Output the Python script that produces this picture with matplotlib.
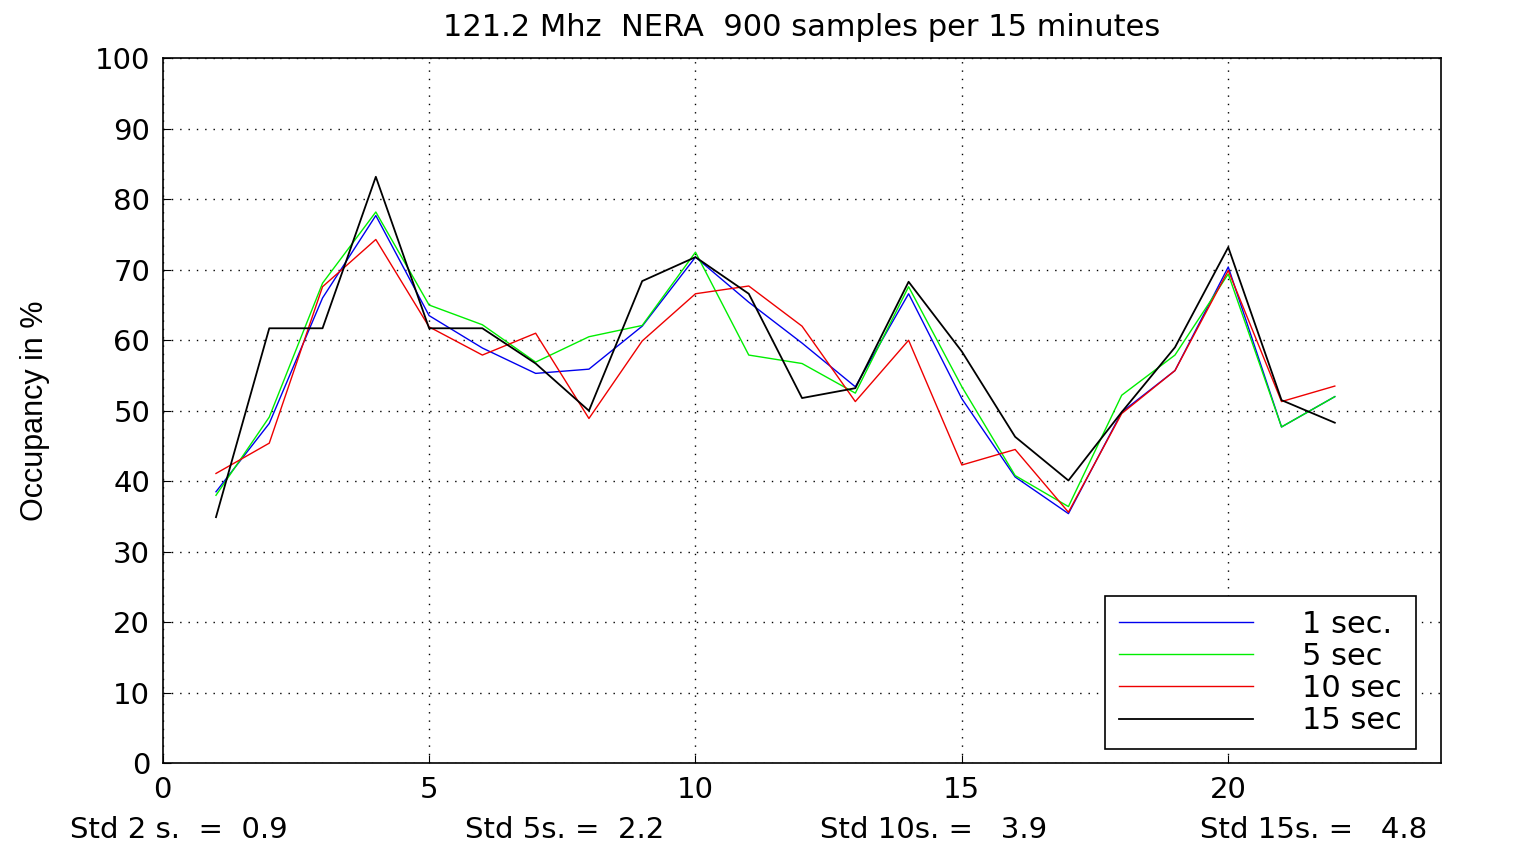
import matplotlib
matplotlib.use('Agg')
import matplotlib.pyplot as plt

plt.rcParams['font.family'] = ['DejaVu Sans']

# interval index (15 minute blocks)
x = list(range(1, 23))

# occupancy in % for each sampling interval
occ_1s = [38.5, 48.2, 66.0, 77.7, 63.5, 58.9, 55.3, 55.9, 62.0, 71.8, 65.4, 59.6,
          53.4, 66.6, 51.7, 40.6, 35.4, 49.8, 55.7, 70.4, 47.7, 52.0]
occ_5s = [38.0, 49.1, 68.1, 78.2, 65.0, 62.2, 56.9, 60.5, 62.1, 72.5, 57.9, 56.7,
          52.5, 67.6, 53.4, 40.8, 36.4, 52.2, 57.9, 69.4, 47.7, 52.0]
occ_10s = [41.1, 45.4, 67.6, 74.3, 61.9, 57.9, 61.0, 48.9, 59.9, 66.6, 67.7, 62.0,
           51.3, 60.0, 42.3, 44.5, 35.6, 49.6, 55.7, 69.9, 51.3, 53.5]
occ_15s = [34.9, 61.7, 61.7, 83.2, 61.7, 61.7, 56.7, 50.0, 68.4, 71.8, 66.6, 51.8,
           53.2, 68.3, 58.4, 46.3, 40.1, 49.8, 59.0, 73.2, 51.5, 48.3]

labels = ['1 sec.', '5 sec', '10 sec', '15 sec']
std_texts = ['Std 2 s.  =  0.9', 'Std 5s. =  2.2', 'Std 10s. =   3.9', 'Std 15s. =   4.8']

fig = plt.figure(figsize=(15.35, 8.46), dpi=100)
ax = fig.add_axes([0.106, 0.098, 0.833, 0.833])

ax.plot(x, occ_1s, color='#0000ee', lw=1.0, label=labels[0])
ax.plot(x, occ_5s, color='#00ee00', lw=1.0, label=labels[1])
ax.plot(x, occ_10s, color='#ee0000', lw=1.0, label=labels[2])
ax.plot(x, occ_15s, color='black', lw=1.3, label=labels[3])

ax.set_xlim(0, 24)
ax.set_ylim(0, 100)
ax.set_xticks([0, 5, 10, 15, 20])
ax.set_yticks(range(0, 101, 10))
ax.tick_params(direction='in', labelsize=21, length=6, pad=9)
ax.grid(True, linestyle=(0, (1, 5)), color='black', linewidth=1.0)
for s in ax.spines.values():
    s.set_linewidth(1.2)

ax.set_title('121.2 Mhz  NERA  900 samples per 15 minutes', fontsize=22, pad=16)
ax.set_ylabel('Occupancy in %', fontsize=22, family=['Liberation Sans Narrow', 'Liberation Sans'])
ax.yaxis.set_label_coords(-0.088, 0.5)

leg = ax.legend(loc='lower right', bbox_to_anchor=(0.980, 0.020), borderaxespad=0,
                fontsize=22, fancybox=False, edgecolor='black', framealpha=1,
                handlelength=4.4, borderpad=0.45, labelspacing=0.1, handletextpad=1.6)
leg.get_frame().set_linewidth(1.2)

# standard deviation notes under the x axis
std_x = [70, 465, 820, 1200]
for px, t in zip(std_x, std_texts):
    fig.text(px / 1535, 1 - 830 / 846, t, fontsize=21, va='center', ha='left')

fig.savefig('out.png', dpi=100)
